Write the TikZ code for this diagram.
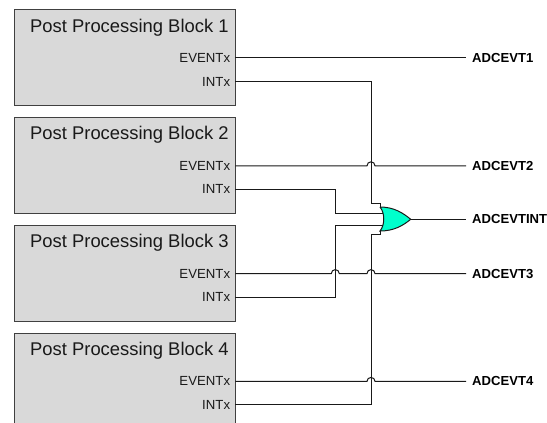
\documentclass[tikz,border=0pt]{standalone}
\usepackage{xcolor}
\usepackage{fontspec}
\setmainfont{Liberation Sans}
\usepackage{tikz}
\usetikzlibrary{arrows.meta,positioning,calc}
\definecolor{blockgray}{HTML}{D9D9D9}
\definecolor{gateteal}{HTML}{00FFCC}
\newcommand{\wirehop}[1]{-- ([xshift=-4pt]#1) arc[start angle=180,end angle=0,radius=4pt]}

\begin{document}
\begin{tikzpicture}[
  x=1pt, y=1pt,
  block/.style={draw=black!75, fill=blockgray, line width=0.8pt, minimum width=221pt, minimum height=96pt, inner sep=0pt},
  blocktitle/.style={font=\fontsize{18.4}{21}\selectfont, text=black!90, anchor=east, inner sep=0pt},
  port/.style={font=\fontsize{13.2}{15}\selectfont, text=black!90, anchor=east, inner xsep=5pt, inner ysep=0pt},
  signal/.style={font=\fontsize{13.1}{15}\selectfont\bfseries, anchor=west, inner xsep=6pt, inner ysep=0pt},
  wire/.style={draw=black!90, line width=1pt}
]
\clip (0,0) rectangle (547,423);
\node[block, anchor=north west] (b1) at (13.5,413.5) {};
\node[block, below=11pt of b1] (b2) {};
\node[block, below=11pt of b2] (b3) {};
\node[block, below=11pt of b3] (b4) {};
\node[blocktitle] (t1) at ([xshift=-6.5pt,yshift=-17.8pt]b1.north east) {Post Processing Block 1};
\node[blocktitle] (t2) at ([xshift=-6.5pt,yshift=-17.8pt]b2.north east) {Post Processing Block 2};
\node[blocktitle] (t3) at ([xshift=-6.5pt,yshift=-17.8pt]b3.north east) {Post Processing Block 3};
\node[blocktitle] (t4) at ([xshift=-6.5pt,yshift=-17.8pt]b4.north east) {Post Processing Block 4};
\node[port] (ev1) at ([yshift=-48.5pt]b1.north east) {EVENTx};
\node[port] (ev2) at ([yshift=-48.5pt]b2.north east) {EVENTx};
\node[port] (ev3) at ([yshift=-48.5pt]b3.north east) {EVENTx};
\node[port] (ev4) at ([yshift=-48.5pt]b4.north east) {EVENTx};
\node[port] (in1) at ([yshift=-72pt]b1.north east) {INTx};
\node[port] (in2) at ([yshift=-72pt]b2.north east) {INTx};
\node[port] (in3) at ([yshift=-72pt]b3.north east) {INTx};
\node[port] (in4) at ([yshift=-72pt]b4.north east) {INTx};
\node[signal] (o1) at (466,365) {ADCEVT1};
\node[signal] (o2) at (466,257.2) {ADCEVT2};
\node[signal] (oint) at (466,203.7) {ADCEVTINT};
\node[signal] (o3) at (466,149.4) {ADCEVT3};
\node[signal] (o4) at (466,41.6) {ADCEVT4};
\coordinate (busl) at (335.3,0);
\coordinate (busr) at (371,0);
\coordinate (notch) at (380,0);
\coordinate (back) at (383,0);
\coordinate (gatetop) at (380,216);
\coordinate (gatebot) at (380,192);
\coordinate (gatetip) at (410.7,203.7);
% event lines
\draw[wire] (ev1.east) -- (ev1.east -| o1.west);
\draw[wire] (ev2.east) \wirehop{busr |- ev2.east} -- (ev2.east -| o2.west);
\draw[wire] (ev3.east) \wirehop{busl |- ev3.east} \wirehop{busr |- ev3.east} -- (ev3.east -| o3.west);
\draw[wire] (ev4.east) \wirehop{busr |- ev4.east} -- (ev4.east -| o4.west);
% interrupt lines
\draw[wire] (in1.east) -| (busr |- 0,219) -- (notch |- 0,219) -- (gatetop);
\draw[wire] (in2.east) -| (busl |- 0,209.7) -- (back |- 0,209.7);
\draw[wire] (in3.east) -| (busl |- 0,197.7) -- (back |- 0,197.7);
\draw[wire] (in4.east) -| (busr |- 0,188.5) -- (notch |- 0,188.5) -- (gatebot);
% gate
\draw[wire, fill=gateteal] (gatetop) .. controls (394,216) and (403,210) .. (gatetip)
  .. controls (403,197.4) and (394,192) .. (gatebot)
  .. controls (385,198) and (385,210) .. (gatetop);
\draw[wire] (gatetip) -- (oint.west);
\end{tikzpicture}
\end{document}
